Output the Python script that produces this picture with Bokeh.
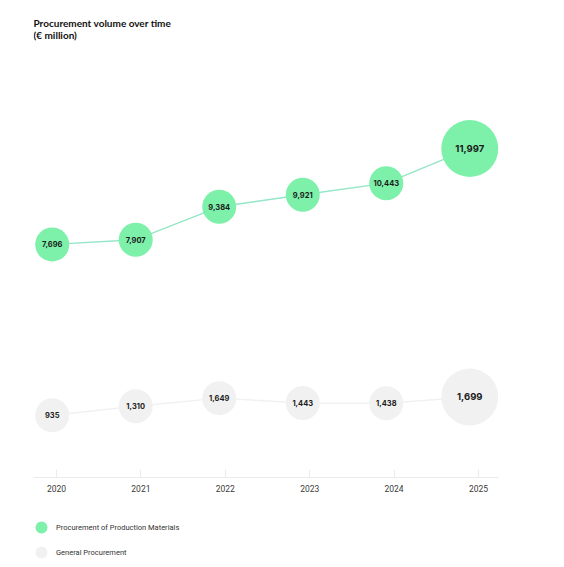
from bokeh.plotting import figure
from bokeh.layouts import column
from bokeh.models import (ColumnDataSource, Range1d, FixedTicker, LinearAxis,
                          Legend, LegendItem, Label)
from bokeh.core.properties import value
from bokeh.embed import file_html
from bokeh.resources import INLINE

# ---- data ----
years = [2020, 2021, 2022, 2023, 2024, 2025]
production_materials = [7696, 7907, 9384, 9921, 10443, 11997]
general_procurement = [935, 1310, 1649, 1443, 1438, 1699]
series_names = ["Procurement of Production Materials", "General Procurement"]
title_lines = ["Procurement volume over time", "(\u20ac million)"]
highlight_year = 2025

GREEN = "#7DF0AA"
GREEN_LINE = "#95E6C6"
GREY = "#F1F1F1"
GREY_LINE = "#F1F1F1"
TEXT = "#1c1c1c"

def fmt(v):
    return f"{v:,}"

def build(vals):
    return ColumnDataSource(dict(
        x=years,
        y=vals,
        label=[fmt(v) for v in vals],
        size=[57 if yr == highlight_year else 34 for yr in years],
        fs=["9.5px" if yr == highlight_year else "7.5px" for yr in years],
    ))

src_pm = build(production_materials)
src_gp = build(general_procurement)

p = figure(width=564, height=505, output_backend="svg", toolbar_location=None,
           x_range=Range1d(2019.7275, 2025.237), y_range=Range1d(-2761, 18279),
           min_border_left=33, min_border_right=66, min_border_top=8,
           min_border_bottom=28, x_axis_type=None, y_axis_type=None,
           title=None, background_fill_color="white", border_fill_color="white")
p.outline_line_color = None
p.xgrid.visible = False
p.ygrid.visible = False
p.extra_x_ranges = {"marks": Range1d(2019.776, 2025.344)}
p.extra_y_ranges = {"gp": Range1d(-1662, 17904)}

xaxis = LinearAxis(ticker=FixedTicker(ticks=years))
xaxis.axis_line_color = "#ebebeb"
xaxis.axis_line_width = 1.2
xaxis.major_tick_line_color = "#ebebeb"
xaxis.major_tick_in = 8
xaxis.major_tick_out = 0
xaxis.minor_tick_line_color = None
xaxis.major_label_standoff = 7
xaxis.major_label_text_font = "Roboto"
xaxis.major_label_text_font_size = "8.5px"
xaxis.major_label_text_color = "#3a3a3a"
p.add_layout(xaxis, "below")

# production materials
p.line("x", "y", source=src_pm, x_range_name="marks", line_color=GREEN_LINE, line_width=1.4)
p.scatter("x", "y", source=src_pm, x_range_name="marks", size="size",
          fill_color=GREEN, line_color=None)
p.text("x", "y", text="label", source=src_pm, x_range_name="marks",
       text_font=value("Inter"), text_font_style="bold", text_font_size="fs",
       text_color=TEXT, text_align="center", text_baseline="middle")

# general procurement
p.line("x", "y", source=src_gp, x_range_name="marks", y_range_name="gp",
       line_color=GREY_LINE, line_width=1.4)
p.scatter("x", "y", source=src_gp, x_range_name="marks", y_range_name="gp",
          size="size", fill_color=GREY, line_color=None)
p.text("x", "y", text="label", source=src_gp, x_range_name="marks", y_range_name="gp",
       text_font=value("Inter"), text_font_style="bold", text_font_size="fs",
       text_color=TEXT, text_align="center", text_baseline="middle")

# title
for i, t in enumerate(title_lines):
    p.add_layout(Label(x=0, y=455 - 12.5 * i, x_units="screen", y_units="screen",
                       text=t, text_font="Lato", text_font_style="bold",
                       text_font_size="10px", text_color="#111111",
                       text_baseline="middle", text_align="left"))

# legend strip (keys reuse the series sources; renderers hidden, only legend shows)
lg = figure(width=564, height=62, output_backend="svg", toolbar_location=None,
            x_range=Range1d(0, 1), y_range=Range1d(0, 1),
            min_border_left=33, min_border_right=66, min_border_top=0,
            min_border_bottom=0, x_axis_type=None, y_axis_type=None, title=None,
            background_fill_color="white", border_fill_color="white")
lg.outline_line_color = None
lg.xgrid.visible = False
lg.ygrid.visible = False
k_pm = lg.scatter("x", "y", source=src_pm, fill_color=GREEN, line_color=None, visible=False)
k_gp = lg.scatter("x", "y", source=src_gp, fill_color=GREY, line_color=None, visible=False)

legend_style = dict(orientation="vertical", glyph_width=30, glyph_height=30,
                    padding=0, margin=0, label_standoff=0, label_text_font="Roboto",
                    label_text_font_size="7.5px", label_text_color="#333333",
                    border_line_color=None, background_fill_alpha=0,
                    click_policy="none")
for k, name, loc in [(k_pm, series_names[0], (-7, 25)), (k_gp, series_names[1], (-7, 0))]:
    lg.add_layout(Legend(items=[LegendItem(label=name, renderers=[k])],
                         location=loc, **legend_style), "center")

open("out.html", "w").write(file_html(column(p, lg, spacing=0), INLINE))
